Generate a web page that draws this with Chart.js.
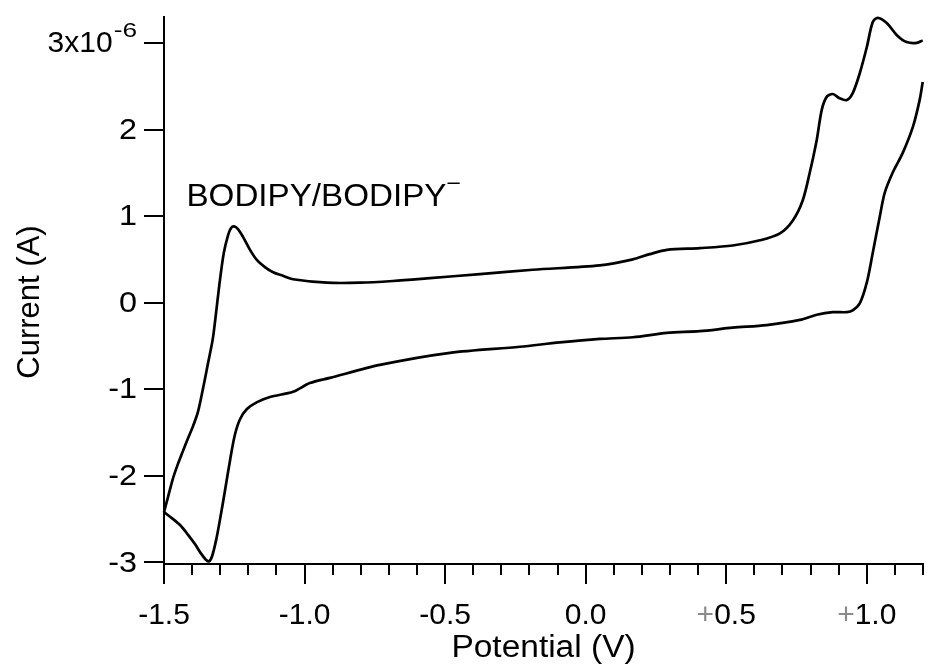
<!DOCTYPE html>
<html>
<head>
<meta charset="utf-8">
<script src="https://cdn.jsdelivr.net/npm/chart.js@4.4.0/dist/chart.umd.min.js"></script>
<style>
  html, body { margin: 0; padding: 0; background: #fff; }
  #wrap { width: 931px; height: 666px; position: relative; }
</style>
</head>
<body>
<div id="wrap"><canvas id="cv"></canvas></div>
<script>
// Forward sweep, -1.5 V -> +1.2 V (current in units of 1e-6 A)
const fwdPotential = [-1.500, -1.486, -1.468, -1.450, -1.432, -1.415, -1.397, -1.379, -1.361, -1.344,
  -1.326, -1.312, -1.301, -1.287, -1.272, -1.262, -1.251, -1.237, -1.219, -1.194,
  -1.169, -1.141, -1.112, -1.077, -1.041, -0.920, -0.803, -0.686, -0.565, -0.376,
  -0.188, 0.050, 0.168, 0.228, 0.289, 0.406, 0.523, 0.620, 0.691, 0.737,
  0.772, 0.797, 0.822, 0.840, 0.858, 0.879, 0.904, 0.929, 0.950, 0.975,
  1.000, 1.021, 1.039, 1.071, 1.107, 1.142, 1.178, 1.199];
const fwdCurrent = [-2.42, -2.25, -2.03, -1.86, -1.71, -1.57, -1.43, -1.26, -0.99, -0.71,
  -0.41, -0.04, 0.26, 0.58, 0.78, 0.86, 0.88, 0.85, 0.76, 0.61,
  0.49, 0.41, 0.35, 0.31, 0.27, 0.23, 0.23, 0.25, 0.28, 0.33,
  0.38, 0.43, 0.50, 0.56, 0.61, 0.63, 0.66, 0.72, 0.80, 0.95,
  1.18, 1.50, 1.88, 2.23, 2.38, 2.41, 2.36, 2.34, 2.42, 2.65,
  2.95, 3.24, 3.29, 3.23, 3.09, 3.01, 3.00, 3.03];

// Reverse sweep, +1.2 V -> -1.5 V
const revPotential = [1.199, 1.188, 1.164, 1.128, 1.092, 1.064, 1.046, 1.021, 1.000, 0.975,
  0.950, 0.929, 0.879, 0.822, 0.762, 0.644, 0.523, 0.406, 0.289, 0.168,
  0.050, -0.092, -0.234, -0.483, -0.732, -0.910, -0.981, -1.041, -1.123, -1.169,
  -1.205, -1.230, -1.248, -1.265, -1.283, -1.301, -1.315, -1.329, -1.340, -1.351,
  -1.368, -1.390, -1.415, -1.443, -1.472, -1.500];
const revCurrent = [2.55, 2.34, 2.03, 1.73, 1.50, 1.27, 0.99, 0.57, 0.23, -0.01,
  -0.09, -0.11, -0.11, -0.14, -0.20, -0.26, -0.29, -0.33, -0.35, -0.40,
  -0.42, -0.46, -0.51, -0.58, -0.72, -0.87, -0.93, -1.03, -1.09, -1.15,
  -1.23, -1.35, -1.53, -1.82, -2.17, -2.51, -2.75, -2.93, -2.99, -2.97,
  -2.90, -2.79, -2.68, -2.57, -2.49, -2.42];

const xTickValues = [-1.5, -1.0, -0.5, 0.0, 0.5, 1.0];
const xTickLabels = ['-1.5', '-1.0', '-0.5', '0.0', '+0.5', '+1.0'];
const yTickValues = [-3, -2, -1, 0, 1, 2, 3];
const yTickLabels = ['-3', '-2', '-1', '0', '1', '2', '3x10'];
const yExponent = '-6';
const xTitle = 'Potential (V)';
const yTitle = 'Current (A)';

const peakLabel = 'BODIPY/BODIPY';
const peakLabelSup = '\u2013';
const peakLabelAt = { x: -1.42, y: 1.115 };

const FONT = "'Liberation Sans', Arial, Helvetica, sans-serif";
const TICK_FS = 30;
const TITLE_FS = 31;
const NOTE_FS = 31;

function toPoints(xs, ys) {
  return xs.map((v, i) => ({ x: v, y: ys[i] }));
}

// text drawn slightly widened, anchored at (x, y) with the given alignment
function wideText(ctx, text, x, y, align, stretch) {
  const w = ctx.measureText(text).width * stretch;
  let left = x;
  if (align === 'center') left = x - w / 2;
  if (align === 'right') left = x - w;
  ctx.save();
  ctx.textAlign = 'left';
  ctx.translate(left, y);
  ctx.scale(stretch, 1);
  ctx.fillText(text, 0, 0);
  ctx.restore();
  return w;
}

// minor ticks, tick labels (grey plus, exponent), axis titles and the peak note
const axisExtras = {
  id: 'axisExtras',
  afterDraw(chart) {
    const { ctx, chartArea, scales: { x, y } } = chart;
    ctx.save();
    ctx.strokeStyle = '#000';
    ctx.lineWidth = 2;
    for (let k = -14; k <= 12; k++) {
      if (k % 5 === 0) continue;
      const px = Math.round(x.getPixelForValue(k / 10));
      ctx.beginPath();
      ctx.moveTo(px, chartArea.bottom);
      ctx.lineTo(px, chartArea.bottom + 11);
      ctx.stroke();
    }

    ctx.fillStyle = '#000';
    ctx.font = TICK_FS + 'px ' + FONT;
    ctx.textBaseline = 'alphabetic';
    ctx.textAlign = 'left';
    const baseY = 624;
    xTickValues.forEach((v, i) => {
      const label = xTickLabels[i];
      const px = x.getPixelForValue(v);
      let left = px - ctx.measureText(label).width / 2;
      if (label[0] === '+') {
        ctx.fillStyle = '#8a8a8a';
        ctx.fillText('+', left, baseY);
        left += ctx.measureText('+').width;
        ctx.fillStyle = '#000';
        ctx.fillText(label.slice(1), left, baseY);
      } else {
        ctx.fillText(label, left, baseY);
      }
    });

    // y labels, the top one carries the exponent
    const right = chartArea.left - 20 - 7;
    yTickValues.forEach((v, i) => {
      const py = y.getPixelForValue(v);
      if (i === yTickValues.length - 1) {
        ctx.font = '21px ' + FONT;
        ctx.textBaseline = 'alphabetic';
        const supW = wideText(ctx, yExponent, right, py - 6, 'right', 1.25);
        ctx.font = TICK_FS + 'px ' + FONT;
        ctx.textBaseline = 'middle';
        wideText(ctx, yTickLabels[i], right - supW - 1, py + 1, 'right', 1.0);
      } else {
        ctx.font = TICK_FS + 'px ' + FONT;
        ctx.textBaseline = 'middle';
        wideText(ctx, yTickLabels[i], right, py + 1, 'right', 1.08);
      }
    });

    // axis titles
    ctx.font = TITLE_FS + 'px ' + FONT;
    ctx.textBaseline = 'alphabetic';
    wideText(ctx, xTitle, (chartArea.left + chartArea.right) / 2, 657, 'center', 1.08);
    ctx.save();
    ctx.translate(39, 302);
    ctx.rotate(-Math.PI / 2);
    ctx.textAlign = 'center';
    ctx.fillText(yTitle, 0, 0);
    ctx.restore();

    // peak annotation
    const ax = x.getPixelForValue(peakLabelAt.x);
    const ay = y.getPixelForValue(peakLabelAt.y);
    ctx.font = NOTE_FS + 'px ' + FONT;
    const w = wideText(ctx, peakLabel, ax, ay, 'left', 1.07);
    ctx.font = Math.round(NOTE_FS * 0.7) + 'px ' + FONT;
    ctx.fillText(peakLabelSup, ax + w + 1, ay - 17);
    ctx.restore();
  }
};

const lineStyle = {
  showLine: true,
  borderColor: '#000',
  borderWidth: 2.7,
  pointRadius: 0,
  tension: 0.3,
  fill: false,
  clip: false
};

new Chart(document.getElementById('cv'), {
  type: 'scatter',
  data: {
    datasets: [
      Object.assign({ data: toPoints(fwdPotential, fwdCurrent) }, lineStyle),
      Object.assign({ data: toPoints(revPotential, revCurrent) }, lineStyle)
    ]
  },
  options: {
    responsive: true,
    maintainAspectRatio: false,
    animation: false,
    layout: { padding: { top: 17, right: 8, left: 0, bottom: 0 } },
    plugins: { legend: { display: false }, tooltip: { enabled: false } },
    scales: {
      x: {
        type: 'linear',
        min: -1.5,
        max: 1.2,
        afterFit: (s) => { s.height = 102; },
        border: { color: '#000', width: 2 },
        grid: { drawOnChartArea: false, tickLength: 20, color: '#000', lineWidth: 2 },
        ticks: { display: false, stepSize: 0.5, includeBounds: false }
      },
      y: {
        type: 'linear',
        min: -3.02,
        max: 3.30,
        afterFit: (s) => { s.width = 164; },
        border: { color: '#000', width: 2 },
        grid: { drawOnChartArea: false, tickLength: 20, color: '#000', lineWidth: 2 },
        ticks: { display: false, stepSize: 1, includeBounds: false }
      }
    }
  },
  plugins: [axisExtras]
});
</script>
</body>
</html>
